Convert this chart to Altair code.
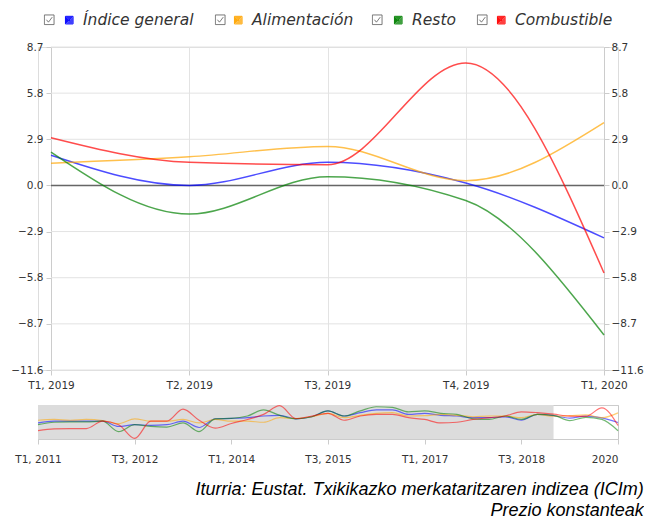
import json
import altair as alt
import pandas as pd

# ---------------- data ----------------
series = ["Índice general", "Alimentación", "Resto", "Combustible"]
colors = ["#0000ff", "#ffa500", "#008000", "#ff0000"]

main_periods = ["T1, 2019", "T2, 2019", "T3, 2019", "T4, 2019", "T1, 2020"]
main_general = [1.9, 0.0, 1.45, 0.15, -3.3]
main_alimentacion = [1.4, 1.8, 2.45, 0.3, 3.95]
main_resto = [2.1, -1.8, 0.55, -0.95, -9.4]
main_combustible = [3.0, 1.45, 1.3, 7.7, -5.5]

y_ticks = [-11.6, -8.7, -5.8, -2.9, 0.0, 2.9, 5.8, 8.7]
zero_line = [0.0]

# navigator: quarters T1 2011 (0) ... T1 2020 (36)
nav_general = [-3.6, -2.3, -2.3, -2.3, -2.1, -6.2, -4.9, -5.4, -4.9, -2.3, -7.0, -0.5,
               -0.2, 0.3, 1.6, 2.1, -0.5, 1.0, 5.4, 1.6, 4.1, 6.2, 6.2, 2.8,
               3.6, 2.1, 1.6, 0.3, 0.3, 1.0, -1.6, 2.8, 1.9, 0.0, 1.45, 0.15, -3.3]
nav_alimentacion = [-1.6, -1.0, -1.6, -1.0, -1.8, -4.1, -0.5, -2.3, -2.3, -1.0, -3.6, -1.0,
                    -2.3, -2.3, -3.1, 0.3, -0.3, 1.0, 3.6, 0.3, 2.1, 3.6, 4.1, 1.6,
                    1.8, 2.8, 2.1, 1.0, 1.6, 1.6, 0.3, 2.8, 1.4, 1.8, 2.45, 0.3, 3.95]
nav_resto = [-4.9, -3.1, -2.8, -2.8, -2.3, -10.1, -4.9, -6.2, -6.7, -3.6, -10.1, -0.5,
             -0.2, 1.6, 6.2, 2.1, -0.5, 1.0, 5.4, 1.6, 5.4, 8.5, 8.0, 4.7,
             5.4, 3.6, 2.8, -0.5, -1.0, 1.6, -1.0, 2.8, 2.1, -1.8, 0.55, -0.95, -9.4]
nav_combustible = [-9.3, -8.0, -7.8, -7.8, -2.3, -4.9, -15.2, -2.3, -2.3, 6.7, -1.6, -7.5,
                   -4.0, -1.0, 2.8, 9.3, -0.3, 1.6, 3.6, -1.6, 1.6, 2.8, 2.8, 0.3,
                   -1.0, -3.6, -3.1, -1.0, 0.3, 1.6, 4.7, 4.1, 3.0, 1.45, 1.3, 7.7, -5.5]
nav_tick_values = [0, 6, 12, 18, 24, 30, 36]
nav_tick_labels = ["T1, 2011", "T3, 2012", "T1, 2014", "T3, 2015", "T1, 2017", "T3, 2018", "2020"]
sel_start, sel_end = 32, 36

source_lines = ["Iturria: Eustat. Txikikazko merkataritzaren indizea (ICIm)",
                "Prezio konstanteak"]

# ---------------- tables ----------------
main_vals = [main_general, main_alimentacion, main_resto, main_combustible]
main_df = pd.DataFrame([
    {"period": p, "series": s, "value": v[i]}
    for s, v in zip(series, main_vals) for i, p in enumerate(main_periods)
])
nav_vals = [nav_general, nav_alimentacion, nav_resto, nav_combustible]
nav_df = pd.DataFrame([
    {"q": i, "series": s, "value": val}
    for s, v in zip(series, nav_vals) for i, val in enumerate(v)
])
grid_df = pd.DataFrame({"t": y_ticks, "start": main_periods[0], "end": main_periods[-1]})
zero_df = pd.DataFrame({"t": zero_line, "start": main_periods[0], "end": main_periods[-1]})

FONT = "DejaVu Sans"
W_NAV = 580

# legend symbols: filled square (concentric strokes) and a check box
SQUARE_PATH = " ".join(
    f"M{-r},{-r}H{r}V{r}H{-r}Z" for r in (0.95, 0.7, 0.45, 0.2, 0.05)
)
CHECK_PATH = "M-1.2,-1.2H1.2V1.2H-1.2Z M-0.7,0 L-0.2,0.6 L0.75,-0.65"

LEG_X, LEG_Y = 23.5, -35
CHECK_X = [3.5, 174.5, 331.5, 436.5]   # legend placement of the four check boxes

legend_color = alt.Legend(
    orient="none", legendX=LEG_X, legendY=LEG_Y, direction="horizontal", title=None,
    symbolType=SQUARE_PATH, symbolSize=64, symbolStrokeWidth=1, symbolOpacity=1,
    labelOffset=6, labelFont=FONT, labelFontSize=15.5, labelFontStyle="italic",
    labelColor="#333", labelLimit=400, columnPadding=37,
)
color_scale = alt.Scale(domain=series, range=colors)
color_enc = alt.Color("series:N", scale=color_scale, legend=legend_color)


def check_legend(i):
    return alt.Legend(
        orient="none", legendX=CHECK_X[i], legendY=LEG_Y, title=None,
        symbolType=CHECK_PATH, symbolSize=64, symbolStrokeWidth=1, symbolOpacity=1,
        symbolStrokeColor="#666666", symbolFillColor="white", symbolDash=[1, 0],
        labelExpr="''", labelFontSize=15.5,
    )


x_scale = alt.Scale(type="point", domain=main_periods, padding=0, range=[13, 566])
y_scale = alt.Scale(domain=[-11.6, 8.7], nice=False, zero=False)
axis_common = dict(title=None, values=y_ticks, format=".1f", labelFont=FONT,
                   labelFontSize=10.5, labelColor="#333", domainColor="#cccccc",
                   tickColor="#cccccc", tickSize=5, grid=False)
x_axis = alt.Axis(title=None, labelAngle=0, grid=True, gridColor="#e3e3e3",
                  domain=False, tickColor="#cccccc", tickSize=5,
                  labelFont=FONT, labelFontSize=10.5, labelColor="#333", labelPadding=5)

grid = alt.Chart(grid_df).mark_rule(color="#e3e3e3", strokeWidth=1).encode(
    x=alt.X("start:O", scale=x_scale, axis=x_axis),
    x2="end:O",
    y=alt.Y("t:Q", scale=y_scale, axis=None),
)

zero_rule = alt.Chart(zero_df).mark_rule(color="#666666", strokeWidth=1.5).encode(
    x=alt.X("start:O", scale=x_scale, axis=x_axis),
    x2="end:O",
    y=alt.Y("t:Q", scale=y_scale,
            axis=alt.Axis(orient="right", offset=-14, labelPadding=2, **axis_common)),
)

lines = alt.Chart(main_df).mark_line(
    interpolate="monotone", strokeWidth=1.5, opacity=0.7
).encode(
    x=alt.X("period:O", scale=x_scale, axis=x_axis),
    y=alt.Y("value:Q", scale=y_scale,
            axis=alt.Axis(orient="left", offset=-13, labelPadding=3, **axis_common)),
    color=color_enc,
)

# invisible one-row layers that only carry the four check-box legends
check_layers = []
channels = [
    lambda f, lg: alt.Shape(f"{f}:N", scale=alt.Scale(range=[CHECK_PATH]), legend=lg),
    lambda f, lg: alt.Size(f"{f}:O", scale=alt.Scale(range=[64, 64]), legend=lg),
    lambda f, lg: alt.StrokeDash(f"{f}:N", scale=alt.Scale(range=[[1, 0]]), legend=lg),
    lambda f, lg: alt.StrokeWidth(f"{f}:O", scale=alt.Scale(range=[1, 1]), legend=lg),
]
chan_names = ["shape", "size", "strokeDash", "strokeWidth"]
for i, s in enumerate(series):
    f = f"c{i}"
    layer = alt.Chart(pd.DataFrame({f: [s]})).mark_point(opacity=0, filled=False).encode(
        **{chan_names[i]: channels[i](f, check_legend(i))}
    )
    check_layers.append(layer)

main = alt.layer(grid, zero_rule, lines, *check_layers).resolve_axis(
    y="independent"
).properties(width=W_NAV, height=323)

# ---------------- navigator ----------------
nav_x_scale = alt.Scale(domain=[0, 36], nice=False, zero=False)
label_expr = (f"{json.dumps(nav_tick_labels)}"
              f"[indexof({json.dumps(nav_tick_values)}, datum.value)]")
nav_axis = alt.Axis(title=None, values=nav_tick_values, labelExpr=label_expr,
                    grid=True, gridColor="#c8c8c8", domain=False,
                    tickColor="#cccccc", tickSize=5, labelFont=FONT, labelFontSize=10.5,
                    labelColor="#333", labelPadding=10,
                    labelAlign={"condition": {"test": "datum.value == 36", "value": "right"},
                                "value": "center"})

nav_bg = alt.Chart(pd.DataFrame({"a": [0], "b": [sel_start]})).mark_rect(
    color="#dcdcdc"
).encode(x=alt.X("a:Q", scale=nav_x_scale, axis=nav_axis), x2="b:Q")

nav_lines = alt.Chart(nav_df).mark_line(
    interpolate="monotone", strokeWidth=1.2, opacity=0.55
).encode(
    x=alt.X("q:Q", scale=nav_x_scale, axis=nav_axis),
    y=alt.Y("value:Q", scale=alt.Scale(domain=[-15.6, 9.8], nice=False, zero=False),
            axis=None),
    color=alt.Color("series:N", scale=color_scale, legend=legend_color),
)

nav = alt.layer(nav_bg, nav_lines).properties(
    width=W_NAV, height=34, view=alt.ViewBackground(stroke="#cccccc")
)

chart = alt.vconcat(main, nav, spacing=11).properties(
    padding={"left": 2, "top": 4, "right": 0, "bottom": 0},
    title=alt.TitleParams(
        text=source_lines, orient="bottom", anchor="end", font="Liberation Sans",
        fontSize=18, fontStyle="italic", fontWeight="normal", color="#000000",
        offset=16, lineHeight=21,
    ),
).configure_view(stroke=None).configure(background="white")

chart.save("out.html", embed_options={"renderer": "svg", "actions": False})
